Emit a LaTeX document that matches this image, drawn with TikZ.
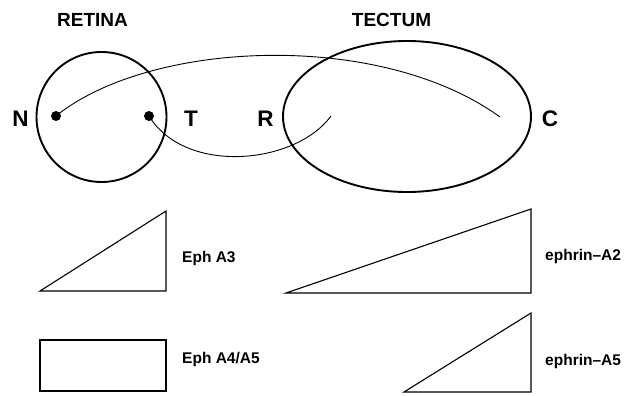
\documentclass[tikz,border=0pt]{standalone}
\usepackage{fontspec}
\setmainfont{Liberation Sans}
\usetikzlibrary{shapes.geometric}
\begin{document}
\begin{tikzpicture}[x=1pt,y=-1pt,
  big/.style={font=\fontsize{19}{19}\selectfont\bfseries, inner sep=0pt, anchor=base},
  pole/.style={font=\fontsize{22.5}{22.5}\selectfont\bfseries, inner sep=0pt, anchor=base},
  gene/.style={font=\fontsize{15.5}{15.5}\selectfont\bfseries, inner sep=0pt, anchor=base west},
  dot/.style={circle, fill=black, inner sep=0pt, minimum size=10pt},
  thick line/.style={line width=1.9pt},
  fiber/.style={line width=0.9pt},
  grad/.style={line width=1.1pt, line join=miter}]
\useasboundingbox (0,0) rectangle (638,396);
% structures
\node[draw, thick line, circle, minimum size=130pt, inner sep=0pt] (retina) at (101.5,117) {};
\node[draw, thick line, ellipse, minimum width=248pt, minimum height=151pt, inner sep=0pt] (tectum) at (407,116.5) {};
% labels
\node[big] (lret) at (92.5,27) {RETINA};
\node[big] (ltec) at (391.5,27) {TECTUM};
\node[pole] (lN) at (20.5,127) {N};
\node[pole] (lT) at (191,127) {T};
\node[pole] (lR) at (265.5,126.5) {R};
\node[pole] (lC) at (550,126.5) {C};
% dots
\node[dot] (dN) at (56,116) {};
\node[dot] (dT) at (149,116) {};
\coordinate (endC) at (500,117);
\coordinate (endR) at (331,116);
% fibers
\draw[fiber] (dN.center) .. controls (150,40) and (380,30) .. (endC);
\draw[fiber] (dT.center) .. controls (185,175) and (295,165) .. (endR);
% gradients
\coordinate (a1) at (40,291); \coordinate (a2) at (166,211); \coordinate (a3) at (166,291);
\draw[grad] (a1) -- (a2) -- (a3) -- cycle;
\node[gene] (g1) at (182,262) {Eph A3};
\coordinate (b1) at (286,293); \coordinate (b2) at (531,209); \coordinate (b3) at (531,293);
\draw[grad] (b1) -- (b2) -- (b3) -- cycle;
\node[gene] (g2) at (545,260) {ephrin–A2};
\draw[grad] (40,340) rectangle (166,391);
\node[gene] (g3) at (182,363) {Eph A4/A5};
\coordinate (c1) at (404,392); \coordinate (c2) at (531,313); \coordinate (c3) at (531,392);
\draw[grad] (c1) -- (c2) -- (c3) -- cycle;
\node[gene] (g4) at (545,365) {ephrin–A5};
\end{tikzpicture}
\end{document}
